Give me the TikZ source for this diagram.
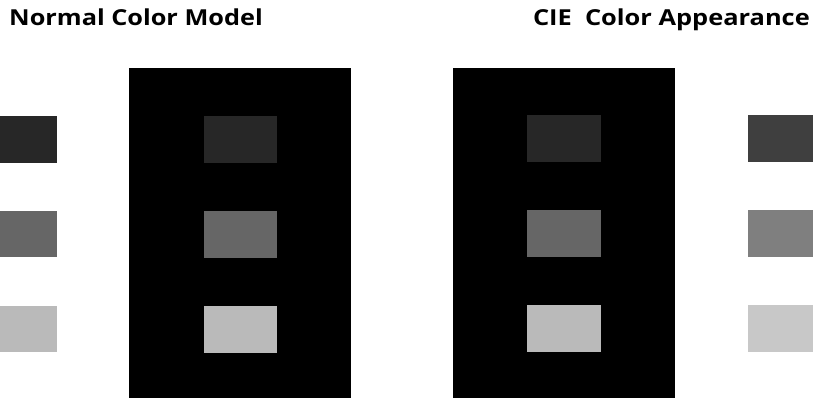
\documentclass[tikz,border=0pt]{standalone}
\usepackage{fontspec}
\usepackage{graphicx}
\setmainfont{Open Sans}
\definecolor{dkA}{HTML}{272727}
\definecolor{mdA}{HTML}{666666}
\definecolor{ltA}{HTML}{BABABA}
\definecolor{dkB}{HTML}{3F3F3F}
\definecolor{mdB}{HTML}{7F7F7F}
\definecolor{ltB}{HTML}{C8C8C8}
\tikzset{
  title/.style={font=\bfseries\fontsize{22}{26}\selectfont, inner sep=0pt},
}
\begin{document}
\begin{tikzpicture}[x=1pt,y=-1pt]
\useasboundingbox (0,0) rectangle (813,398);
\fill[white] (0,0) rectangle (813,398);
% titles
\node[title, anchor=base west] (t1) at (9,26) {\scalebox{1.15}[1]{Normal Color Model}};
\node[title, anchor=base east] (t2) at (810,26) {\scalebox{1.155}[1]{CIE\ \ Color Appearance}};
% black panels
\fill[black] (129,68) rectangle (351,398);
\fill[black] (453,68) rectangle (675,398);
% left swatches
\fill[dkA] (0,116) rectangle (57,163);
\fill[mdA] (0,211) rectangle (57,257);
\fill[ltA] (0,306) rectangle (57,352);
% inner squares left panel
\fill[dkA] (204,116) rectangle (277,163);
\fill[mdA] (204,211) rectangle (277,258);
\fill[ltA] (204,306) rectangle (277,353);
% inner squares right panel
\fill[dkA] (527,115) rectangle (601,162);
\fill[mdA] (527,210) rectangle (601,257);
\fill[ltA] (527,305) rectangle (601,352);
% right swatches
\fill[dkB] (748,115) rectangle (813,162);
\fill[mdB] (748,210) rectangle (813,257);
\fill[ltB] (748,305) rectangle (813,352);
\end{tikzpicture}
\end{document}
